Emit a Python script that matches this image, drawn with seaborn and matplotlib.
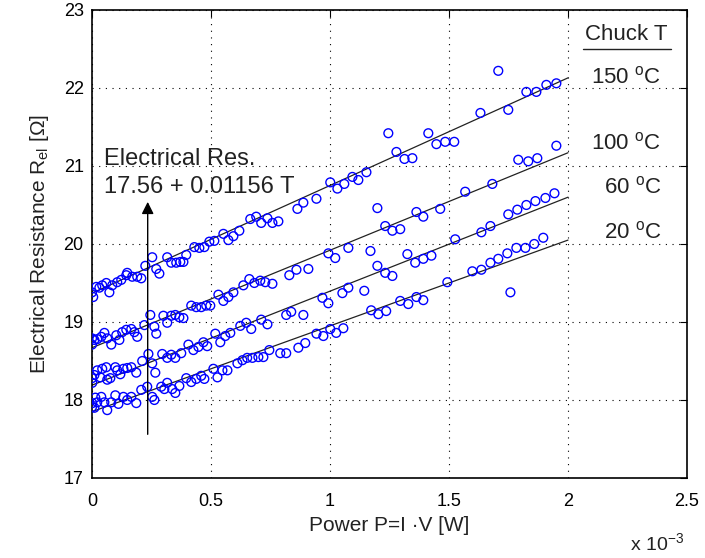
import numpy as np
import pandas as pd
import seaborn as sns
import matplotlib.pyplot as plt

# power in units of 1e-3 W, resistance in Ohm
p20 = [0.00, 0.001, 0.010, 0.014, 0.022, 0.039, 0.052, 0.064, 0.081, 0.098, 0.111, 0.132, 0.148,
       0.165, 0.186, 0.207, 0.232, 0.253, 0.262, 0.291, 0.304, 0.316, 0.337, 0.350, 0.367, 0.396,
       0.417, 0.438, 0.459, 0.472, 0.510, 0.527, 0.548, 0.569, 0.611, 0.632, 0.652, 0.674, 0.699,
       0.720, 0.745, 0.791, 0.816, 0.867, 0.896, 0.943, 0.972, 1.001, 1.026, 1.056, 1.173, 1.203,
       1.236, 1.295, 1.329, 1.363, 1.392, 1.493, 1.598, 1.636, 1.674, 1.707, 1.745, 1.758, 1.783,
       1.821, 1.858, 1.896]
r20 = [17.91, 17.96, 17.90, 18.03, 17.97, 18.04, 17.97, 17.87, 17.97, 18.06, 17.95, 18.04, 18.00,
       18.04, 17.96, 18.13, 18.17, 18.04, 18.00, 18.17, 18.14, 18.22, 18.14, 18.09, 18.18, 18.28,
       18.23, 18.27, 18.31, 18.27, 18.40, 18.29, 18.38, 18.38, 18.47, 18.51, 18.54, 18.54, 18.55,
       18.55, 18.64, 18.60, 18.60, 18.67, 18.73, 18.85, 18.82, 18.91, 18.86, 18.92, 19.15, 19.10,
       19.14, 19.27, 19.23, 19.32, 19.28, 19.51, 19.65, 19.67, 19.76, 19.81, 19.88, 19.38, 19.95,
       19.95, 20.00, 20.08]

p60 = [0.00, 0.001, 0.010, 0.022, 0.035, 0.043, 0.060, 0.064, 0.077, 0.098, 0.106, 0.119, 0.132,
       0.148, 0.165, 0.186, 0.211, 0.237, 0.253, 0.266, 0.295, 0.316, 0.333, 0.350, 0.375, 0.405,
       0.426, 0.447, 0.468, 0.484, 0.518, 0.539, 0.560, 0.581, 0.623, 0.648, 0.669, 0.711, 0.737,
       0.816, 0.837, 0.888, 0.968, 0.993, 1.052, 1.077, 1.144, 1.199, 1.232, 1.262, 1.325, 1.358,
       1.392, 1.426, 1.526, 1.636, 1.674, 1.749, 1.787, 1.825, 1.863, 1.905, 1.943]
r60 = [18.28, 18.22, 18.32, 18.38, 18.29, 18.40, 18.42, 18.26, 18.28, 18.42, 18.38, 18.33, 18.40,
       18.41, 18.42, 18.35, 18.50, 18.59, 18.47, 18.35, 18.59, 18.54, 18.58, 18.54, 18.60, 18.71,
       18.64, 18.68, 18.74, 18.69, 18.85, 18.74, 18.82, 18.86, 18.95, 18.99, 18.91, 19.03, 18.97,
       19.09, 19.13, 19.09, 19.31, 19.24, 19.37, 19.44, 19.40, 19.72, 19.63, 19.59, 19.87, 19.76,
       19.81, 19.85, 20.06, 20.15, 20.23, 20.38, 20.44, 20.50, 20.55, 20.59, 20.65]

p100 = [0.00, 0.00, 0.010, 0.022, 0.039, 0.052, 0.064, 0.081, 0.102, 0.115, 0.127, 0.144, 0.165,
        0.178, 0.190, 0.220, 0.245, 0.262, 0.270, 0.300, 0.316, 0.333, 0.350, 0.367, 0.384, 0.417,
        0.438, 0.459, 0.480, 0.497, 0.531, 0.552, 0.573, 0.594, 0.636, 0.661, 0.682, 0.707, 0.728,
        0.758, 0.829, 0.859, 0.909, 0.993, 1.022, 1.077, 1.170, 1.199, 1.232, 1.262, 1.295, 1.363,
        1.392, 1.463, 1.568, 1.682, 1.791, 1.833, 1.871, 1.951]
r100 = [18.79, 18.71, 18.77, 18.78, 18.81, 18.86, 18.79, 18.71, 18.83, 18.77, 18.87, 18.90, 18.91,
        18.87, 18.81, 18.96, 19.09, 18.94, 18.85, 19.08, 18.99, 19.08, 19.09, 19.06, 19.05, 19.21,
        19.19, 19.19, 19.21, 19.21, 19.35, 19.27, 19.32, 19.38, 19.47, 19.55, 19.50, 19.53, 19.51,
        19.49, 19.60, 19.67, 19.68, 19.88, 19.82, 19.95, 19.91, 20.46, 20.23, 20.17, 20.19, 20.41,
        20.35, 20.45, 20.67, 20.77, 21.08, 21.06, 21.10, 21.26]

p150 = [0.00, 0.005, 0.018, 0.031, 0.043, 0.060, 0.073, 0.085, 0.106, 0.123, 0.144, 0.148, 0.169,
        0.190, 0.207, 0.224, 0.253, 0.270, 0.283, 0.316, 0.333, 0.354, 0.371, 0.384, 0.396, 0.430,
        0.451, 0.472, 0.493, 0.514, 0.552, 0.573, 0.594, 0.619, 0.665, 0.690, 0.711, 0.737, 0.758,
        0.783, 0.863, 0.888, 0.943, 1.001, 1.031, 1.060, 1.094, 1.119, 1.153, 1.245, 1.279, 1.313,
        1.346, 1.413, 1.447, 1.484, 1.522, 1.632, 1.707, 1.749, 1.825, 1.867, 1.909, 1.951]
r150 = [19.38, 19.32, 19.45, 19.44, 19.47, 19.50, 19.38, 19.47, 19.51, 19.54, 19.60, 19.63, 19.58,
        19.58, 19.56, 19.72, 19.83, 19.68, 19.62, 19.83, 19.76, 19.76, 19.77, 19.77, 19.86, 19.96,
        19.95, 19.96, 20.03, 20.04, 20.13, 20.05, 20.10, 20.17, 20.32, 20.35, 20.27, 20.33, 20.27,
        20.29, 20.45, 20.53, 20.58, 20.79, 20.71, 20.77, 20.86, 20.82, 20.92, 21.42, 21.18, 21.09,
        21.10, 21.42, 21.28, 21.31, 21.31, 21.68, 22.22, 21.72, 21.95, 21.95, 22.04, 22.06]

chuck_temps = [20, 60, 100, 150]
fit_p = [0.0, 2.0]
fit_start = [17.85, 18.19, 18.67, 19.37]
fit_end = [20.05, 20.60, 21.17, 22.13]

label_y = [20.15, 20.72, 21.29, 22.14]

frames = []
for t, p, r in zip(chuck_temps, [p20, p60, p100, p150], [r20, r60, r100, r150]):
    frames.append(pd.DataFrame({"power": p, "res": r, "chuck": t}))
df = pd.concat(frames, ignore_index=True)

sns.set_theme(style="white")
plt.rcParams['font.family'] = ['Liberation Sans', 'DejaVu Sans']
plt.rcParams['mathtext.fontset'] = 'custom'
plt.rcParams['mathtext.rm'] = 'Liberation Sans'
plt.rcParams['mathtext.it'] = 'Liberation Sans:italic'
plt.rcParams['mathtext.bf'] = 'Liberation Sans:bold'

fig = plt.figure(figsize=(7.05, 5.58), dpi=100)
ax = fig.add_axes([0.1305, 0.1434, 0.8440, 0.8387])

for t, a, b in zip(chuck_temps, fit_start, fit_end):
    sns.lineplot(x=fit_p, y=[a, b], color="#222222", linewidth=0.9, ax=ax)

sns.scatterplot(data=df, x="power", y="res", marker="o", s=40, facecolors="none",
                edgecolor="blue", linewidth=1.0, ax=ax, zorder=3)

ax.set_xlim(0, 2.5)
ax.set_ylim(17, 23)
ax.set_xticks([0, 0.5, 1, 1.5, 2, 2.5])
ax.set_xticklabels(["0", "0.5", "1", "1.5", "2", "2.5"])
ax.set_yticks(range(17, 24))
ax.grid(True, color="black", linestyle=(0, (1, 5)), linewidth=0.8)
for s in ax.spines.values():
    s.set_color("black")
    s.set_linewidth(1.2)
ax.tick_params(axis="both", direction="in", top=True, right=True, length=5, width=0.8,
               labelsize=13, colors="black")
ax.tick_params(axis="x", pad=11)
ax.tick_params(axis="y", pad=6)

ax.set_xlabel("Power P=I \u00b7V [W]", fontsize=15, labelpad=4, color="#222222")
ax.set_ylabel("Electrical Resistance R$_{\\mathrm{el}}$ [\u03a9]", fontsize=15, labelpad=9,
              color="#222222")

# fit annotation with arrow from the intercept
ax.annotate("", xy=(0.234, 20.54), xytext=(0.234, 17.56),
            arrowprops=dict(arrowstyle="-|>", color="black", lw=1.0,
                            mutation_scale=18, shrinkA=0, shrinkB=0))
ax.text(0.052, 21.01, "Electrical Res.", fontsize=17, color="#222222", va="baseline")
ax.text(0.052, 20.65, "17.56 + 0.01156 T", fontsize=17, color="#222222", va="baseline")

# temperature labels
ax.text(2.245, 22.68, "Chuck T", fontsize=16, color="#222222", ha="center", va="center")
ax.plot([2.063, 2.434], [22.50, 22.50], color="#222222", lw=1.0)
for t, yv in zip(chuck_temps, label_y):
    ax.text(2.392, yv, f"{t} $^{{\\mathrm{{o}}}}$C", fontsize=16, color="#222222",
            ha="right", va="center")

fig.text(0.8936, 0.0143, "x 10$^{-3}$", fontsize=14, color="#222222", va="baseline")

fig.savefig("out.png", dpi=100)
